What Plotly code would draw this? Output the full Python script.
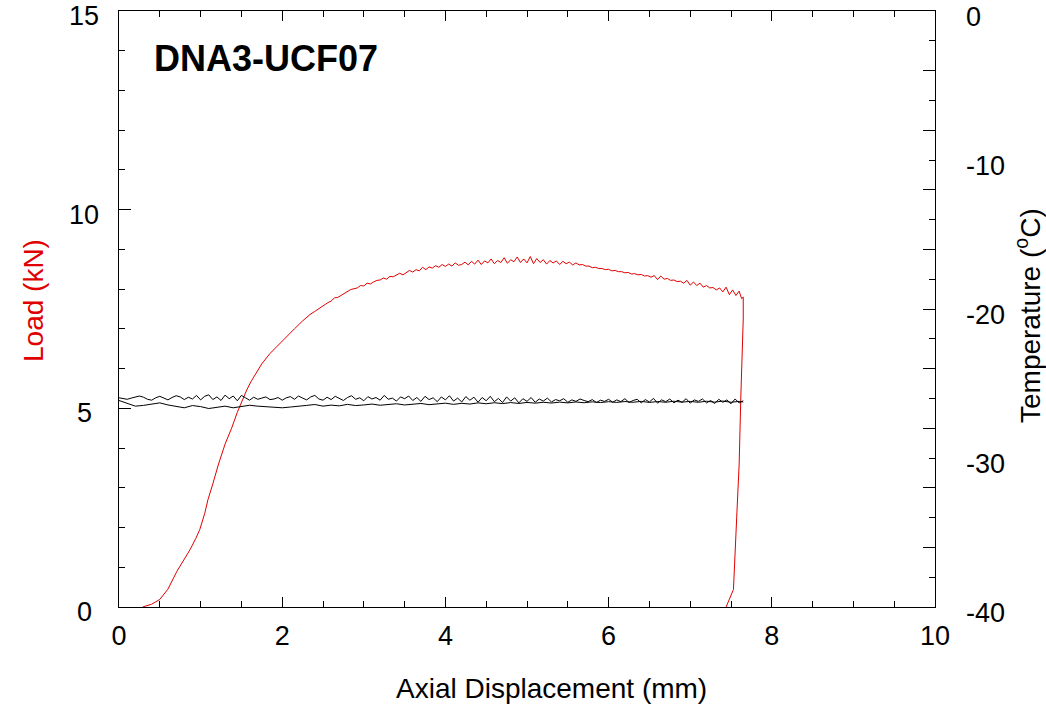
import plotly.graph_objects as go

# ---- Load curve (kN) vs axial displacement (mm) ----
load_x = [0.29, 0.40, 0.50, 0.60, 0.71, 0.80, 0.87, 0.94, 0.99, 1.05, 1.09, 1.15, 1.22, 1.30,
          1.38, 1.45, 1.51, 1.565, 1.62, 1.68, 1.75, 1.85, 1.93, 2.05, 2.15, 2.25, 2.34,
          2.40, 2.44, 2.48, 2.52, 2.56, 2.60, 2.64, 2.68, 2.72, 2.76, 2.80, 2.84, 2.88, 2.92,
          2.96, 3.00, 3.04, 3.08, 3.12, 3.16, 3.20, 3.24, 3.28, 3.32, 3.36, 3.40, 3.44, 3.48,
          3.52, 3.56, 3.60, 3.64, 3.68, 3.72, 3.76, 3.80, 3.84, 3.88, 3.92, 3.96, 4.00, 4.04,
          4.08, 4.12, 4.16, 4.20, 4.24, 4.28, 4.32, 4.36, 4.40, 4.44, 4.48, 4.52, 4.56, 4.60,
          4.64, 4.68, 4.72, 4.76, 4.80, 4.84, 4.88, 4.92, 4.96, 5.00, 5.04, 5.08, 5.12, 5.16,
          5.20, 5.24, 5.28, 5.32, 5.36, 5.40, 5.44, 5.48, 5.52, 5.56, 5.60, 5.64, 5.68, 5.72,
          5.76, 5.80, 5.84, 5.88, 5.92, 5.96, 6.00, 6.04, 6.08, 6.12, 6.16, 6.20, 6.24, 6.28,
          6.32, 6.36, 6.40, 6.44, 6.48, 6.52, 6.56, 6.60, 6.64, 6.68, 6.72, 6.76, 6.80, 6.84,
          6.88, 6.92, 6.96, 7.00, 7.04, 7.08, 7.12, 7.16, 7.20, 7.24, 7.28, 7.32, 7.36, 7.40,
          7.44, 7.48, 7.52, 7.56, 7.60, 7.63, 7.65,
          7.65, 7.62, 7.60, 7.57, 7.55, 7.53, 7.44]
load_kn = [0.00, 0.07, 0.19, 0.45, 0.90, 1.20, 1.44, 1.72, 1.95, 2.35, 2.70, 3.10, 3.60, 4.10,
           4.50, 4.90, 5.20, 5.46, 5.68, 5.90, 6.12, 6.38, 6.55, 6.80, 7.00, 7.20, 7.36,
           7.44, 7.50, 7.56, 7.60, 7.66, 7.70, 7.78, 7.79, 7.84, 7.90, 7.93, 7.99, 8.01, 8.03,
           8.09, 8.08, 8.15, 8.13, 8.18, 8.22, 8.23, 8.28, 8.25, 8.32, 8.31, 8.35, 8.40, 8.36,
           8.42, 8.47, 8.43, 8.49, 8.46, 8.55, 8.49, 8.56, 8.53, 8.59, 8.55, 8.62, 8.57, 8.63,
           8.58, 8.66, 8.60, 8.62, 8.68, 8.61, 8.70, 8.63, 8.73, 8.62, 8.71, 8.66, 8.76, 8.64,
           8.72, 8.67, 8.79, 8.65, 8.74, 8.69, 8.81, 8.67, 8.76, 8.66, 8.82, 8.64, 8.77, 8.67,
           8.74, 8.63, 8.72, 8.66, 8.71, 8.62, 8.70, 8.64, 8.68, 8.61, 8.66, 8.61, 8.62, 8.58,
           8.58, 8.54, 8.55, 8.52, 8.52, 8.49, 8.50, 8.46, 8.47, 8.44, 8.44, 8.41, 8.42, 8.38,
           8.39, 8.36, 8.37, 8.33, 8.34, 8.30, 8.34, 8.24, 8.33, 8.25, 8.27, 8.22, 8.23, 8.19,
           8.20, 8.15, 8.22, 8.10, 8.18, 8.09, 8.15, 8.05, 8.09, 8.03, 8.04, 7.98, 8.03, 7.93,
           8.05, 7.86, 7.98, 7.84, 7.95, 7.76, 7.80,
           7.25, 5.26, 3.60, 2.26, 1.19, 0.44, 0.00]

# ---- Temperature traces (deg C) ----
temp1_x = [0.00, 0.05, 0.10, 0.15, 0.20, 0.25, 0.30, 0.35, 0.40, 0.45, 0.50, 0.55, 0.60, 0.65,
           0.70, 0.75, 0.80, 0.85, 0.90, 0.95, 1.00, 1.05, 1.10, 1.15, 1.20, 1.25, 1.30, 1.35,
           1.40, 1.45, 1.50, 1.55, 1.60, 1.65, 1.70, 1.75, 1.80, 1.85, 1.90, 1.95, 2.00, 2.05,
           2.10, 2.15, 2.20, 2.25, 2.30, 2.35, 2.40, 2.45, 2.50, 2.55, 2.60, 2.65, 2.70, 2.75,
           2.80, 2.85, 2.90, 2.95, 3.00, 3.05, 3.10, 3.15, 3.20, 3.25, 3.30, 3.35, 3.40, 3.45,
           3.50, 3.55, 3.60, 3.65, 3.70, 3.75, 3.80, 3.85, 3.90, 3.95, 4.00, 4.05, 4.10, 4.15,
           4.20, 4.25, 4.30, 4.35, 4.40, 4.45, 4.50, 4.55, 4.60, 4.65, 4.70, 4.75, 4.80, 4.85,
           4.90, 4.95, 5.00, 5.05, 5.10, 5.15, 5.20, 5.25, 5.30, 5.35, 5.40, 5.45, 5.50, 5.55,
           5.60, 5.65, 5.70, 5.75, 5.80, 5.85, 5.90, 5.95, 6.00, 6.05, 6.10, 6.15, 6.20, 6.25,
           6.30, 6.35, 6.40, 6.45, 6.50, 6.55, 6.60, 6.65, 6.70, 6.75, 6.80, 6.85, 6.90, 6.95,
           7.00, 7.05, 7.10, 7.15, 7.20, 7.25, 7.30, 7.35, 7.40, 7.45, 7.50, 7.55, 7.60, 7.65]
temp1_c = [-25.96, -26.02, -26.06, -25.98, -25.90, -25.84, -25.92, -26.06, -26.12, -25.96,
           -25.86, -25.98, -26.10, -25.94, -25.82, -25.90, -26.08, -25.92, -26.04, -25.80,
           -26.10, -25.86, -25.76, -26.08, -25.90, -26.14, -25.78, -26.02, -25.84, -26.16,
           -25.80, -25.96, -26.12, -25.92, -26.06, -25.98, -25.90, -26.08, -26.04, -25.94,
           -26.12, -25.96, -25.88, -26.06, -25.84, -25.98, -26.10, -25.90, -25.80, -26.04,
           -26.12, -25.92, -26.08, -25.86, -26.02, -26.14, -25.94, -25.82, -26.06, -25.96,
           -26.16, -25.88, -26.04, -25.94, -26.12, -25.80, -26.06, -25.98, -26.18, -25.90,
           -26.02, -25.84, -26.14, -25.94, -26.20, -25.86, -26.08, -25.96, -26.22, -25.90,
           -26.10, -25.82, -26.18, -25.98, -26.24, -25.88, -26.12, -25.92, -26.26, -25.94,
           -26.16, -25.86, -26.22, -26.00, -26.28, -25.90, -26.18, -25.96, -26.30, -26.02,
           -26.20, -25.94, -26.26, -26.04, -26.18, -25.98, -26.24, -26.08, -26.16, -26.02,
           -26.26, -26.10, -26.20, -26.04, -26.14, -26.22, -26.08, -26.28, -26.12, -26.20,
           -26.06, -26.26, -26.10, -26.22, -26.02, -26.28, -26.14, -26.06, -26.30, -26.08,
           -26.24, -26.00, -26.32, -26.10, -26.22, -26.04, -26.30, -26.12, -26.26, -26.02,
           -26.32, -26.10, -26.20, -26.04, -26.30, -26.14, -26.34, -26.06, -26.26, -26.10,
           -26.36, -26.04, -26.30, -26.16]

temp2_x = [0.0, 0.1, 0.2, 0.3, 0.4, 0.5, 0.6, 0.7, 0.8, 0.9, 1.0, 1.1, 1.2, 1.3, 1.4, 1.5,
           1.6, 1.7, 1.8, 1.9, 2.0, 2.1, 2.2, 2.3, 2.4, 2.5, 2.6, 2.7, 2.8, 2.9, 3.0, 3.1,
           3.2, 3.3, 3.4, 3.5, 3.6, 3.7, 3.8, 3.9, 4.0, 4.1, 4.2, 4.3, 4.4, 4.5, 4.6, 4.7,
           4.8, 4.9, 5.0, 5.1, 5.2, 5.3, 5.4, 5.5, 5.6, 5.7, 5.8, 5.9, 6.0, 6.1, 6.2, 6.3,
           6.4, 6.5, 6.6, 6.7, 6.8, 6.9, 7.0, 7.1, 7.2, 7.3, 7.4, 7.5, 7.6, 7.65]
temp2_c = [-26.14, -26.35, -26.52, -26.47, -26.40, -26.30, -26.44, -26.52, -26.63, -26.48,
           -26.55, -26.68, -26.58, -26.52, -26.63, -26.55, -26.46, -26.52, -26.56, -26.60,
           -26.63, -26.58, -26.54, -26.47, -26.41, -26.52, -26.45, -26.50, -26.40, -26.48,
           -26.44, -26.38, -26.46, -26.42, -26.36, -26.44, -26.40, -26.34, -26.42, -26.37,
           -26.32, -26.40, -26.33, -26.38, -26.30, -26.36, -26.29, -26.35, -26.28, -26.34,
           -26.27, -26.32, -26.26, -26.31, -26.25, -26.30, -26.24, -26.29, -26.23, -26.28,
           -26.22, -26.27, -26.21, -26.26, -26.20, -26.27, -26.21, -26.26, -26.19, -26.25,
           -26.20, -26.26, -26.19, -26.25, -26.18, -26.26, -26.20, -26.24]

x_ticks = [0, 2, 4, 6, 8, 10]
load_ticks = [0, 5, 10, 15]
temp_ticks = [-40, -30, -20, -10, 0]
specimen = "DNA3-UCF07"

FONT = "Liberation Sans, Arial, sans-serif"
TICK_SIZE = 27
TITLE_SIZE = 28
RED = "#e00000"

# page body margin is removed (post_script below), so figure pixels = page pixels
W, H = 1046, 708
L = 119          # left axis x
R = W - 935      # right axis x = 935
T = 11           # top axis y
B = H - 607      # bottom axis y = 607
pw, ph = W - L - R, H - T - B


def px_x(p):
    return (p - L) / pw


def px_y(p):
    return (H - B - p) / ph


fig = go.Figure()
fig.add_trace(go.Scatter(x=temp1_x, y=temp1_c, mode="lines", yaxis="y2",
                         line=dict(color="black", width=1), showlegend=False))
fig.add_trace(go.Scatter(x=temp2_x, y=temp2_c, mode="lines", yaxis="y2",
                         line=dict(color="black", width=1), showlegend=False))
fig.add_trace(go.Scatter(x=load_x, y=load_kn, mode="lines", yaxis="y",
                         line=dict(color=RED, width=1), showlegend=False))
fig.add_trace(go.Scatter(x=[None], y=[None], yaxis="y3", showlegend=False, hoverinfo="skip"))

fig.update_layout(
    width=W, height=H,
    margin=dict(l=L, r=R, t=T, b=B, pad=0),
    paper_bgcolor="white", plot_bgcolor="white",
    font=dict(family=FONT, color="black", size=TICK_SIZE),
    xaxis=dict(range=[0, 10], tickvals=x_ticks, ticks="inside", ticklen=10, tickwidth=1,
               tickcolor="black", showline=True, linecolor="black", linewidth=1,
               mirror="ticks", showgrid=False, zeroline=False, automargin=False,
               minor=dict(dtick=0.5, tick0=0, ticks="inside", ticklen=6, tickcolor="black"),
               tickfont=dict(size=TICK_SIZE), ticklabelstandoff=5),
    yaxis=dict(range=[0, 15], tickvals=load_ticks, ticks="inside", ticklen=12, tickwidth=1,
               tickcolor="black", showline=True, linecolor="black", linewidth=1,
               showgrid=False, zeroline=False, automargin=False, showticklabels=False,
               minor=dict(dtick=1, tick0=0, ticks="inside", ticklen=6, tickcolor="black")),
    yaxis2=dict(range=[-40, 0], tickvals=temp_ticks, ticks="", overlaying="y", side="right",
                showline=True, linecolor="black", linewidth=1, showgrid=False, zeroline=False,
                automargin=False, showticklabels=False),
    yaxis3=dict(range=[-40, 0], dtick=4, tick0=0, ticks="inside", ticklen=12, tickcolor="black",
                overlaying="y", side="right", showticklabels=False, showgrid=False,
                zeroline=False, showline=False, automargin=False,
                minor=dict(dtick=2, tick0=0, ticks="inside", ticklen=6, tickcolor="black")),
)

# y tick labels (left: load, centred; right: temperature, left-aligned)
for v in load_ticks:
    fig.add_annotation(x=px_x(84), y=v, xref="paper", yref="y", text=str(v), showarrow=False,
                       xanchor="center", yanchor="middle", yshift=-5,
                       font=dict(size=TICK_SIZE, family=FONT, color="black"))
for v in temp_ticks:
    fig.add_annotation(x=px_x(964), y=v, xref="paper", yref="y2", text=str(v),
                       showarrow=False, xanchor="left", yanchor="middle", yshift=-6,
                       font=dict(size=TICK_SIZE, family=FONT, color="black"))

fig.add_annotation(x=0.41, y=13.8, xref="x", yref="y", text="<b>%s</b>" % specimen,
                   showarrow=False, xanchor="left", yanchor="middle",
                   font=dict(size=36, family=FONT, color="black"))
fig.add_annotation(x=px_x(551), y=px_y(688), xref="paper", yref="paper",
                   text="Axial Displacement (mm)", showarrow=False,
                   xanchor="center", yanchor="middle",
                   font=dict(size=TITLE_SIZE, family=FONT, color="black"))
fig.add_annotation(x=px_x(33), y=px_y(301), xref="paper", yref="paper", text="Load (kN)",
                   textangle=-90, showarrow=False, xanchor="center", yanchor="middle",
                   font=dict(size=TITLE_SIZE, family=FONT, color=RED))
fig.add_annotation(x=px_x(1028), y=px_y(316), xref="paper", yref="paper",
                   text="Temperature (<sup>o</sup>C)", textangle=-90, showarrow=False,
                   xanchor="center", yanchor="middle",
                   font=dict(size=TITLE_SIZE, family=FONT, color="black"))

fig.write_html("out.html",
               config={"displayModeBar": False},
               post_script="document.body.style.margin='0px'; document.body.style.overflow='hidden';")
